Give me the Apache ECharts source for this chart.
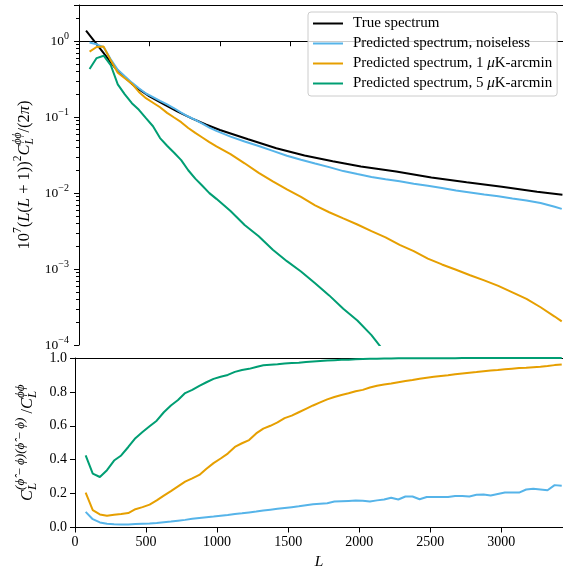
<!DOCTYPE html>
<html><head><meta charset="utf-8">
<script src="https://cdn.jsdelivr.net/npm/echarts@6/dist/echarts.min.js"></script>
<style>html,body{margin:0;padding:0;background:#fff}#c{width:563px;height:572px}</style>
</head><body><div id="c"></div>
<script>
// ---------- data ----------
const seriesNames = ['True spectrum', 'Predicted spectrum, noiseless', 'Predicted spectrum, 1 μK-arcmin', 'Predicted spectrum, 5 μK-arcmin'];
const seriesColors = ['#000000', '#56B4E9', '#E69F00', '#009E73'];

const xTicks = [0, 500, 1000, 1500, 2000, 2500, 3000];
const yTopMajor = [1e-4, 1e-3, 1e-2, 1e-1, 1];
const yTopMinor = [2e-4,3e-4,4e-4,5e-4,6e-4,7e-4,8e-4,9e-4,2e-3,3e-3,4e-3,5e-3,6e-3,7e-3,8e-3,9e-3,
  2e-2,3e-2,4e-2,5e-2,6e-2,7e-2,8e-2,9e-2,0.2,0.3,0.4,0.5,0.6,0.7,0.8,0.9,2,3];
const yBottomTicks = [0, 0.2, 0.4, 0.6, 0.8, 1.0];

// true spectrum (top panel)
const ellTrue = [50,100,150,200,250,300,400,500,600,700,800,900,1000,1200,1400,1600,1800,2000,2250,2500,2750,3000,3250,3430];
const trueSpec = [1.38,1.05,0.80,0.61,0.46,0.37,0.25,0.188,0.149,0.118,0.0962,0.080,0.0679,0.0512,0.0390,0.0312,0.0262,0.0224,0.0192,0.0161,0.0139,0.0121,0.0104,0.0095];

// predicted spectra (top panel)
const ellTop = [75,125,175,225,275,325,375,425,475,525,575,625,675,725,775,825,875,925,975,
  1075,1175,1275,1375,1475,1575,1675,1775,1875,1975,2075,2175,2275,2375,2475,2575,2675,2775,2875,2975,3075,3175,3275,3375,3425];
const predNoiseless = [0.96,0.91,0.835,0.58,0.42,0.345,0.285,0.24,0.205,0.184,0.164,0.147,0.131,0.115,0.102,0.092,0.082,0.073,0.066,
  0.0555,0.0478,0.0418,0.036,0.031,0.0275,0.0245,0.022,0.0195,0.0178,0.0163,0.0152,0.0143,0.0133,0.0125,0.0117,0.0108,0.0102,0.0096,0.0091,0.0085,0.0080,0.0074,0.0066,0.0062];
const pred1uK = [0.73,0.84,0.85,0.56,0.385,0.325,0.276,0.215,0.178,0.155,0.135,0.114,0.099,0.086,0.072,0.062,0.054,0.047,0.0413,
  0.0327,0.0247,0.0185,0.0143,0.0112,0.0089,0.0069,0.0056,0.00464,0.00386,0.00316,0.00262,0.00208,0.00172,0.00137,0.00115,0.00098,0.00083,0.00071,0.0006,0.000494,0.000404,0.000314,0.000237,0.000205];
const pred5uK = [0.43,0.60,0.645,0.486,0.27,0.20,0.153,0.125,0.097,0.076,0.053,0.042,0.034,0.0272,0.020,0.0155,0.0125,0.0100,0.0084,
  0.0058,0.0038,0.0027,0.0018,0.00127,0.00093,0.00065,0.00045,0.00030,0.00021,0.000135,0.000078,0.000048];

// noise ratio (bottom panel)
const ellBottom = [75,125,175,225,275,325,375,425,475,525,575,625,675,725,775,825,875,925,975,
  1025,1075,1125,1175,1225,1275,1325,1375,1425,1475,1525,1575,1625,1675,1725,1775,1825,1875,1925,1975,
  2025,2075,2125,2175,2225,2275,2325,2375,2425,2475,2525,2575,2625,2675,2725,2775,2825,2875,2925,2975,
  3025,3075,3125,3175,3225,3275,3325,3375,3425];
const ratioNoiseless = [0.092,0.049,0.030,0.022,0.019,0.018,0.018,0.020,0.022,0.024,0.027,0.031,0.035,0.040,0.045,0.051,0.056,0.061,0.065,
  0.070,0.074,0.080,0.084,0.089,0.094,0.100,0.105,0.110,0.115,0.120,0.125,0.131,0.137,0.140,0.143,0.153,0.155,0.157,0.159,
  0.158,0.153,0.160,0.165,0.176,0.165,0.183,0.183,0.167,0.180,0.180,0.180,0.180,0.186,0.186,0.183,0.193,0.195,0.189,0.198,
  0.207,0.207,0.206,0.224,0.228,0.224,0.220,0.250,0.246];
const ratio1uK = [0.206,0.102,0.077,0.069,0.075,0.079,0.085,0.108,0.120,0.135,0.160,0.188,0.215,0.243,0.271,0.290,0.310,0.347,0.380,
  0.407,0.436,0.475,0.497,0.516,0.555,0.583,0.600,0.620,0.645,0.660,0.680,0.700,0.720,0.738,0.756,0.770,0.782,0.792,0.804,
  0.812,0.826,0.836,0.844,0.850,0.857,0.864,0.870,0.878,0.884,0.889,0.894,0.898,0.904,0.909,0.913,0.917,0.922,0.926,0.929,
  0.933,0.937,0.941,0.943,0.946,0.949,0.953,0.958,0.962];
const ratio5uK = [0.426,0.318,0.298,0.338,0.395,0.425,0.475,0.527,0.563,0.597,0.630,0.680,0.720,0.752,0.793,0.812,0.836,0.857,0.877,
  0.889,0.900,0.918,0.929,0.936,0.947,0.957,0.960,0.963,0.968,0.970,0.972,0.976,0.979,0.982,0.985,0.987,0.989,0.990,0.992,
  0.994,0.995,0.996,0.997,0.997,0.998,0.998,0.998,0.999,0.999,0.999,0.999,0.999,0.999,1,1,1,1,1,1,
  1,1,1,1,1,1,1,1,1];

// ---------- chart ----------
const FONT = '"Liberation Serif", "DejaVu Serif", serif';
const X_MAX = 3434;
const pairs = (xs, ys) => ys.map((v, i) => [xs[i], v]);

function makeRich(base, script) {
  return {
    n:   { fontFamily: FONT, fontSize: base, color: '#000', lineHeight: 34, align: 'left' },
    i:   { fontFamily: FONT, fontSize: base, color: '#000', lineHeight: 34, align: 'left', fontStyle: 'italic' },
    supn:{ fontFamily: FONT, fontSize: script, color: '#000', height: 20, lineHeight: 20, verticalAlign: 'top', align: 'left' },
    sup: { fontFamily: FONT, fontSize: script, color: '#000', height: 20, lineHeight: 20, verticalAlign: 'top', align: 'left', fontStyle: 'italic' },
    sub: { fontFamily: FONT, fontSize: script, color: '#000', height: 24, lineHeight: 24, verticalAlign: 'bottom', align: 'left', fontStyle: 'italic', width: 0 }
  };
}

const spine = { show: true, lineStyle: { color: '#000', width: 1 } };
const noTick = { show: false };

function lineSeries(name, color, data, xi, yi, clip) {
  return {
    type: 'line', name, data, xAxisIndex: xi, yAxisIndex: yi,
    symbol: 'none', showSymbol: false, smooth: false, clip: clip,
    color: color, lineStyle: { color: color, width: 2 },
    silent: true, animation: false, emphasis: { disabled: true }
  };
}

function logLabel(v) {
  const l = Math.log10(v);
  const e = Math.round(l);
  if (Math.abs(l - e) > 1e-6) return '';
  const es = e < 0 ? '\u2212' + (-e) : String(e);
  return '{b|10}{e|' + es + '}';
}

const chart = echarts.init(document.getElementById('c'), null, { renderer: 'canvas', devicePixelRatio: 1 });
chart.setOption({
  backgroundColor: '#fff',
  animation: false,
  grid: [
    { left: 75, top: 5, width: 488, height: 340 },
    { left: 75, top: 358, width: 488, height: 169.5 }
  ],
  legend: {
    data: seriesNames,
    orient: 'vertical',
    left: 308, top: 12,
    itemWidth: 30, itemHeight: 14, itemGap: 5,
    padding: [4, 5, 5, 4],
    backgroundColor: 'rgba(255,255,255,0.8)',
    borderColor: '#cccccc', borderWidth: 1, borderRadius: 3,
    selectedMode: false,
    itemStyle: { opacity: 0 },
    formatter: n => n.replace('μ', '{m|μ}'),
    textStyle: {
      fontFamily: FONT, fontSize: 15, color: '#000', lineHeight: 14, padding: [0, 0, 0, 5],
      rich: { m: { fontFamily: FONT, fontSize: 15, fontStyle: 'italic', color: '#000', lineHeight: 14 } }
    }
  },
  xAxis: [
    { gridIndex: 0, type: 'value', position: 'bottom', min: 0, max: X_MAX,
      axisLine: spine, splitLine: { show: false },
      axisTick: { show: true, length: 5, customValues: xTicks, lineStyle: { color: '#000' } },
      axisLabel: { show: false } },
    { gridIndex: 0, type: 'value', position: 'top', min: 0, max: X_MAX,
      axisLine: spine, splitLine: { show: false }, axisTick: noTick, axisLabel: { show: false } },
    { gridIndex: 1, type: 'value', position: 'bottom', min: 0, max: X_MAX,
      axisLine: spine, splitLine: { show: false },
      axisTick: { show: true, length: 5, customValues: xTicks, lineStyle: { color: '#000' } },
      axisLabel: { show: true, customValues: xTicks, formatter: v => String(v), fontFamily: FONT, fontSize: 14, color: '#000', margin: 8 },
      name: 'L', nameLocation: 'middle', nameGap: 26, nameMoveOverlap: false,
      nameTextStyle: { fontFamily: FONT, fontSize: 15.5, fontStyle: 'italic', color: '#000' } },
    { gridIndex: 1, type: 'value', position: 'top', min: 0, max: X_MAX,
      axisLine: spine, splitLine: { show: false }, axisTick: noTick, axisLabel: { show: false } }
  ],
  yAxis: [
    { gridIndex: 0, type: 'log', logBase: 10, position: 'left', min: yTopMajor[0], max: 3,
      axisLine: spine, splitLine: { show: false },
      axisTick: { show: true, length: 5, lineStyle: { color: '#000' } },
      axisLabel: { show: true, margin: 10, formatter: logLabel,
        rich: {
          b: { fontFamily: FONT, fontSize: 13.5, color: '#000', lineHeight: 22, align: 'left' },
          e: { fontFamily: FONT, fontSize: 10, color: '#000', height: 13, lineHeight: 13, verticalAlign: 'top', align: 'left' }
        } },
      name: '{n|10}{supn|7}{n|(}{i|L}{n|(}{i|L}{n| + 1))}{supn|2}{i|C}{sub|L}{sup|\u03D5\u03D5}{n|/(2}{i|\u03C0}{n|)}',
      nameLocation: 'middle', nameRotate: 90, nameGap: 37, nameMoveOverlap: false,
      nameTextStyle: { rich: makeRich(16.5, 11.5) } },
    { gridIndex: 0, type: 'value', position: 'left', min: Math.log10(yTopMajor[0]), max: Math.log10(3),
      axisLine: { show: false }, splitLine: { show: false }, axisLabel: { show: false },
      axisTick: { show: true, length: 3, customValues: yTopMinor.map(v => Math.log10(v)), lineStyle: { color: '#000' } } },
    { gridIndex: 1, type: 'value', position: 'left', min: 0, max: 1,
      axisLine: spine, splitLine: { show: false },
      axisTick: { show: true, length: 5, customValues: yBottomTicks, lineStyle: { color: '#000' } },
      axisLabel: { show: true, customValues: yBottomTicks, formatter: v => v.toFixed(1), fontFamily: FONT, fontSize: 14, color: '#000', margin: 8 },
      name: '{i|C}{sub|L}{sup|(\u03D5\u0302\u2009\u2212\u2009\u03D5)(\u03D5\u0302\u2009\u2212\u2009\u03D5)}{n| /}{i|C}{sub|L}{sup|\u03D5\u03D5}',
      nameLocation: 'middle', nameRotate: 90, nameGap: 30, nameMoveOverlap: false,
      nameTextStyle: { rich: makeRich(16.5, 13) } }
  ],
  series: [
    lineSeries(seriesNames[0], seriesColors[0], pairs(ellTrue, trueSpec), 0, 0, true),
    lineSeries(seriesNames[1], seriesColors[1], pairs(ellTop, predNoiseless), 0, 0, true),
    lineSeries(seriesNames[2], seriesColors[2], pairs(ellTop, pred1uK), 0, 0, true),
    lineSeries(seriesNames[3], seriesColors[3], pairs(ellTop, pred5uK), 0, 0, true),
    lineSeries(seriesNames[1], seriesColors[1], pairs(ellBottom, ratioNoiseless), 2, 2, false),
    lineSeries(seriesNames[2], seriesColors[2], pairs(ellBottom, ratio1uK), 2, 2, false),
    lineSeries(seriesNames[3], seriesColors[3], pairs(ellBottom, ratio5uK), 2, 2, false)
  ]
});
</script></body></html>
